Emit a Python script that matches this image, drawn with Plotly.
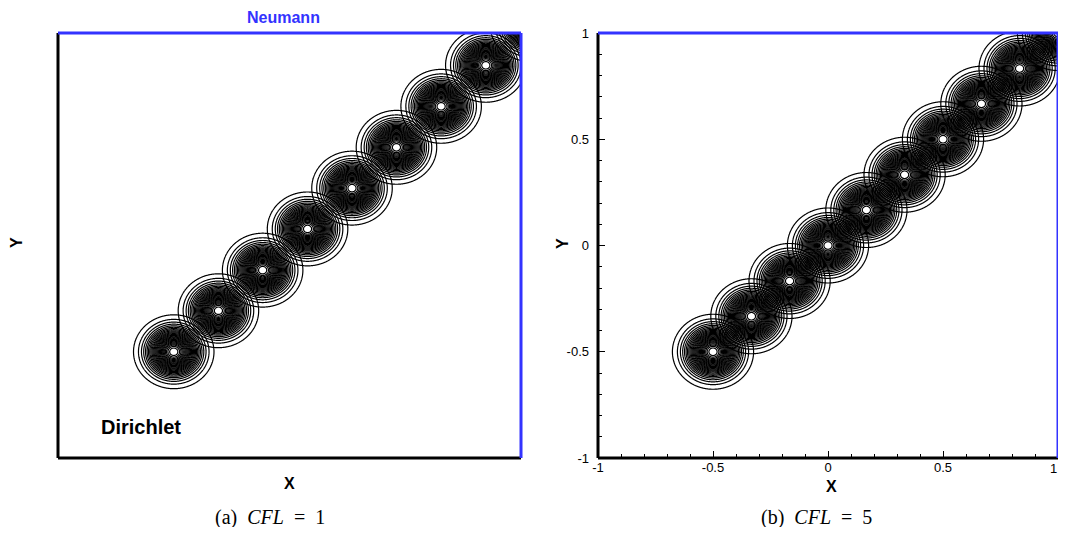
import numpy as np
import plotly.graph_objects as go

# Pulse centres (snapshots)
cx_a = [-0.50, -0.307, -0.116, 0.078, 0.270, 0.462, 0.655, 0.848, 1.04]
cy_a = [-0.50, -0.307, -0.116, 0.078, 0.270, 0.462, 0.655, 0.848, 1.04]
cx_b = [-0.50, -0.333, -0.167, 0.0, 0.167, 0.333, 0.50, 0.667, 0.833, 1.0]
cy_b = [-0.50, -0.333, -0.167, 0.0, 0.167, 0.333, 0.50, 0.667, 0.833, 1.0]
sigma_a = 0.065
sigma_b = 0.066
tick_vals = [-1, -0.5, 0, 0.5, 1]
tick_text = ["-1", "-0.5", "0", "0.5", "1"]

OFF = 8  # page body margin
W, H = 1050, 519
def px(x): return min((x - OFF) / W, 1.0)
def py(y): return 1 - (y - OFF) / H

fig = go.Figure()

def add_pulses(cxs, cys, sig, xa, ya):
    for cx, cy in zip(cxs, cys):
        g = np.linspace(-0.22, 0.22, 221)
        X, Y = np.meshgrid(cx + g, cy + g)
        Z = np.exp(-((X - cx) ** 2 + (Y - cy) ** 2) / (2 * sig ** 2))
        fig.add_trace(go.Contour(
            x=cx + g, y=cy + g, z=Z, xaxis=xa, yaxis=ya,
            contours=dict(coloring="lines", start=0.028, end=0.97, size=0.036),
            colorscale=[[0, "black"], [1, "black"]], showscale=False,
            line=dict(width=1.2), hoverinfo="skip"))

add_pulses(cx_a, cy_a, sigma_a, "x", "y")
add_pulses(cx_b, cy_b, sigma_b, "x2", "y2")

dom_a = [px(58), px(521)]
dom_b = [px(598), px(1060)]
dom_y = [py(458), py(33)]

axis_common = dict(range=[-1, 1], showgrid=False, zeroline=False, automargin=False)

fig.update_layout(
    width=W, height=H, margin=dict(l=0, r=0, t=0, b=0, pad=0), autosize=False,
    paper_bgcolor="white", plot_bgcolor="white", showlegend=False,
    font=dict(family="Liberation Sans, Arial", color="black"),
    xaxis=dict(domain=dom_a, showticklabels=False, ticks="", anchor="y", **axis_common),
    yaxis=dict(domain=dom_y, showticklabels=False, ticks="", anchor="x", **axis_common),
    xaxis2=dict(domain=dom_b, tickvals=tick_vals, ticktext=tick_text[:-1] + [""],
                ticks="inside", ticklen=7,
                tickwidth=1, tickcolor="black", tickfont=dict(size=13),
                minor=dict(ticks="inside", dtick=0.1, ticklen=4, tickcolor="black"),
                anchor="y2", **axis_common),
    yaxis2=dict(domain=dom_y, tickvals=tick_vals, ticktext=tick_text, ticks="inside", ticklen=7,
                tickwidth=1, tickcolor="black", tickfont=dict(size=13),
                ticklabelstandoff=8,
                minor=dict(ticks="inside", dtick=0.1, ticklen=4, tickcolor="black"),
                anchor="x2", **axis_common),
)

shapes = []
for xr, yr in [("x domain", "y domain"), ("x2 domain", "y2 domain")]:
    shapes.append(dict(type="line", xref=xr, yref=yr, x0=0, x1=0, y0=0, y1=1,
                       line=dict(color="black", width=3)))
    shapes.append(dict(type="line", xref=xr, yref=yr, x0=0, x1=1, y0=0, y1=0,
                       line=dict(color="black", width=3)))
    shapes.append(dict(type="line", xref=xr, yref=yr, x0=0, x1=1, y0=1, y1=1,
                       line=dict(color="#3333ff", width=3)))
    shapes.append(dict(type="line", xref=xr, yref=yr, x0=1, x1=1, y0=0, y1=1,
                       line=dict(color="#3333ff", width=3)))
fig.update_layout(shapes=shapes)

cap_font = dict(size=20, family="Liberation Serif, DejaVu Serif")
ann = [
    dict(x=px(283), y=1.0, yanchor="top", text="<b>Neumann</b>",
         font=dict(size=16, color="#3333ff")),
    dict(x=px(141), y=py(427), text="<b>Dirichlet</b>", font=dict(size=20)),
    dict(x=px(289), y=py(483), text="<b>X</b>", font=dict(size=16)),
    dict(x=px(16), y=py(243), text="<b>Y</b>", font=dict(size=16), textangle=-90),
    dict(x=px(831), y=py(486), text="<b>X</b>", font=dict(size=16)),
    dict(x=px(563), y=py(244), text="<b>Y</b>", font=dict(size=16), textangle=-90),
    dict(x=1.0, xanchor="right", y=py(468), text=tick_text[-1], font=dict(size=13)),
    dict(x=px(270), y=py(517), text="(a)&nbsp; <i>CFL</i>&nbsp; =&nbsp; 1", font=cap_font),
    dict(x=px(816), y=py(517), text="(b)&nbsp; <i>CFL</i>&nbsp; =&nbsp; 5", font=cap_font),
]
for a in ann:
    a.setdefault("yanchor", "middle")
    a.setdefault("xanchor", "center")
    a.update(xref="paper", yref="paper", showarrow=False, borderpad=0)
fig.update_layout(annotations=ann)

fig.write_html("out.html")
